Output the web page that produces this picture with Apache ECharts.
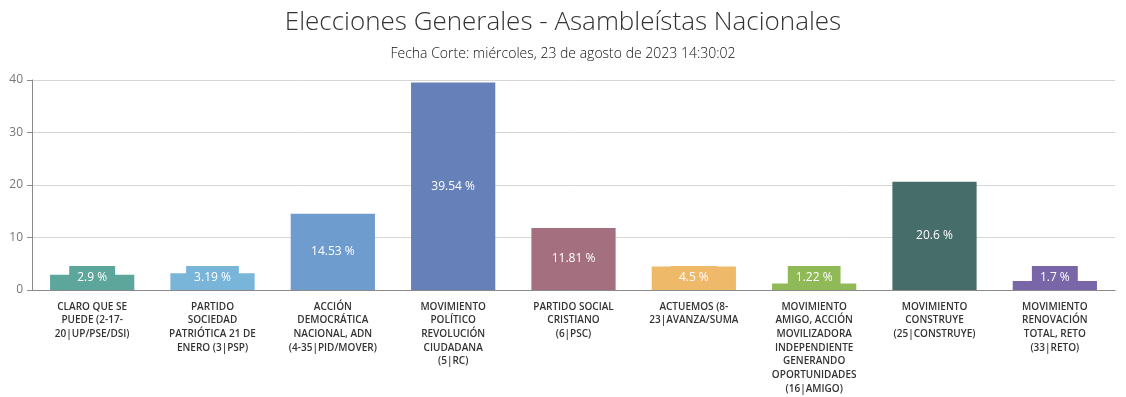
<!DOCTYPE html>
<html lang="es">
<head>
	<meta charset="utf-8">
	<title>Elecciones Generales - Asambleístas Nacionales</title>
	<script src="https://cdn.jsdelivr.net/npm/echarts@6/dist/echarts.min.js"></script>
	<style>
		html, body { margin: 0; padding: 0; background: #fff; }
		#main { width: 1126px; height: 397px; }
	</style>
</head>
<body>
<div id="main"></div>
<script>
	// datos del gráfico
	const partidos = [
		'CLARO QUE SE\nPUEDE (2-17-\n20|UP/PSE/DSI)',
		'PARTIDO\nSOCIEDAD\nPATRIÓTICA 21 DE\nENERO (3|PSP)',
		'ACCIÓN\nDEMOCRÁTICA\nNACIONAL, ADN\n(4-35|PID/MOVER)',
		'MOVIMIENTO\nPOLÍTICO\nREVOLUCIÓN\nCIUDADANA\n(5|RC)',
		'PARTIDO SOCIAL\nCRISTIANO\n(6|PSC)',
		'ACTUEMOS (8-\n23|AVANZA/SUMA',
		'MOVIMIENTO\nAMIGO, ACCIÓN\nMOVILIZADORA\nINDEPENDIENTE\nGENERANDO\nOPORTUNIDADES\n(16|AMIGO)',
		'MOVIMIENTO\nCONSTRUYE\n(25|CONSTRUYE)',
		'MOVIMIENTO\nRENOVACIÓN\nTOTAL, RETO\n(33|RETO)'
	];
	const porcentajes = [2.9, 3.19, 14.53, 39.54, 11.81, 4.5, 1.22, 20.6, 1.7];
	const colores = ['#5ca69b', '#78b5d8', '#6f9cce', '#6681b9', '#a4707f', '#efb96a', '#90b958', '#466d69', '#7866a8'];
	const ticksY = [0, 10, 20, 30, 40];

	const chart = echarts.init(document.getElementById('main'));

	const option = {
		textStyle: { fontFamily: '"Open Sans", "Noto Sans", sans-serif' },
		title: {
			text: 'Elecciones Generales - Asambleístas Nacionales',
			subtext: 'Fecha Corte: miércoles, 23 de agosto de 2023 14:30:02',
			left: 'center',
			top: 5,
			itemGap: 11,
			textStyle: { fontSize: 26, fontWeight: 300, color: '#333', fontFamily: '"Open Sans", sans-serif' },
			subtextStyle: { fontSize: 14, fontWeight: 300, color: '#111', fontFamily: '"Open Sans", sans-serif' }
		},
		grid: { left: 32, right: 11, top: 80, bottom: 107, outerBoundsMode: 'none', containLabel: false },
		xAxis: {
			type: 'category',
			data: partidos,
			axisLine: { lineStyle: { color: '#8a8a8a' } },
			axisTick: { length: 5, lineStyle: { color: '#8a8a8a' } },
			axisLabel: {
				interval: 0,
				margin: 10,
				fontSize: 10,
				lineHeight: 13.7,
				fontWeight: 600,
				color: '#333'
			}
		},
		yAxis: {
			type: 'value',
			min: ticksY[0],
			max: ticksY[ticksY.length - 1],
			interval: 10,
			axisLine: { show: true, lineStyle: { color: '#8a8a8a' } },
			axisTick: { show: true, length: 5, lineStyle: { color: '#8a8a8a' } },
			axisLabel: { fontSize: 12, color: '#777', margin: 9 },
			splitLine: { lineStyle: { color: '#d6d6d6' } }
		},
		series: [{
			type: 'bar',
			barWidth: '70%',
			animation: false,
			data: porcentajes.map((v, i) => ({
				value: v,
				itemStyle: { color: colores[i] },
				label: {
					position: v < 5 ? 'insideBottom' : 'inside',
					distance: 0,
					backgroundColor: colores[i]
				}
			})),
			label: {
				show: true,
				color: '#fff',
				fontSize: 12,
				padding: [6, 8, 6, 8],
				formatter: p => p.value + ' %'
			}
		}]
	};

	chart.setOption(option);
</script>
</body>
</html>
